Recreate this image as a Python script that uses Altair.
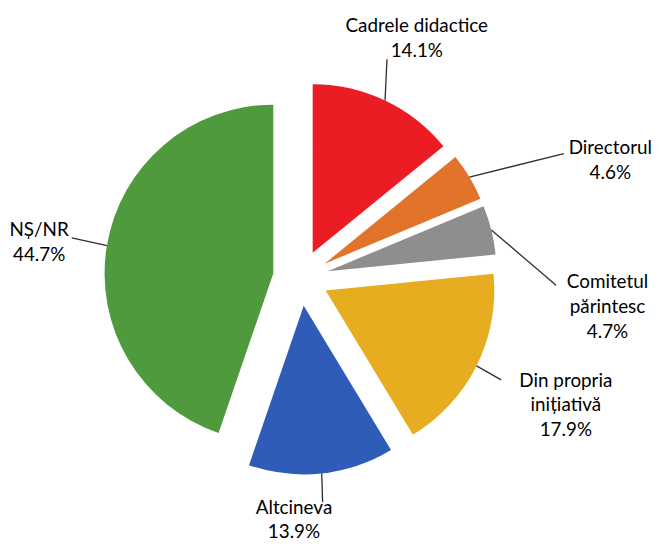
import math
import altair as alt
import pandas as pd

# ---- data ----
categories = ["Cadrele didactice", "Directorul", "Comitetul părintesc",
              "Din propria inițiativă", "Altcineva", "NȘ/NR"]
values = [14.1, 4.6, 4.7, 17.9, 13.9, 44.7]
colors = ["#EC1C24", "#E2732B", "#8E8E8E", "#E5AD1F", "#2E5CB8", "#4E9A3C"]
label_lines = ["Cadrele didactice", "Directorul", "Comitetul\npărintesc",
               "Din propria\ninițiativă", "Altcineva", "NȘ/NR"]

# ---- layout (radius units / degrees clockwise from 12 o'clock, relative to each slice centre) ----
LEADER_R = [1.229, 1.561, 1.356, 1.168, 1.170, 1.213]
LEADER_DEG = [21.0, 65.3, 93.5, 117.0, 174.5, 280.0]
TEXT_R = [1.413, 1.80, 1.672, 1.579, 1.272, 1.400]
TEXT_DEG = [25.9, 70.2, 97.3, 115.6, 182.6, 277.5]
EXPLODE = 0.165          # slice offset, in radius units
RADIUS_PX = 170
W, H = 652, 534
CX_PX, CY_PX = 295, 270  # pie centre inside the plot area
FONT_SIZE = 19
LINE_H = 25

xs = alt.Scale(domain=[-CX_PX / RADIUS_PX, (W - CX_PX) / RADIUS_PX], nice=False, zero=False)
ys = alt.Scale(domain=[-(H - CY_PX) / RADIUS_PX, CY_PX / RADIUS_PX], nice=False, zero=False)

df = pd.DataFrame({
    "category": categories,
    "value": values,
    "order": list(range(len(categories))),
    "label": label_lines,
    "lr": LEADER_R,
    "ld": LEADER_DEG,
    "tr": TEXT_R,
    "td": TEXT_DEG,
})

base = (
    alt.Chart(df)
    .transform_window(cum="sum(value)", sort=[alt.SortField("order")], frame=[None, 0])
    .transform_joinaggregate(total="sum(value)")
    .transform_calculate(t0="(datum.cum - datum.value) / datum.total")
    .transform_calculate(t1="datum.cum / datum.total")
    .transform_calculate(mid="PI * (2 * datum.cum - datum.value) / datum.total")
    .transform_calculate(sx=f"{EXPLODE} * sin(datum.mid)")
    .transform_calculate(sy=f"{EXPLODE} * cos(datum.mid)")
    .transform_calculate(ax="datum.sx + sin(datum.mid)")
    .transform_calculate(ay="datum.sy + cos(datum.mid)")
    .transform_calculate(lx="datum.sx + datum.lr * sin(datum.ld * PI / 180)")
    .transform_calculate(ly="datum.sy + datum.lr * cos(datum.ld * PI / 180)")
    .transform_calculate(txt="datum.label + '\\n' + format(datum.value, '.1f') + '%'")
    .transform_calculate(nlines="length(split(datum.txt, '\\n'))")
    .transform_calculate(tx="datum.sx + datum.tr * sin(datum.td * PI / 180)")
    .transform_calculate(
        ty=f"datum.sy + datum.tr * cos(datum.td * PI / 180) + (datum.nlines - 1) * {LINE_H / 2} / {RADIUS_PX}"
    )
)

arcs = base.mark_arc(radius=RADIUS_PX).encode(
    x=alt.X("sx:Q", scale=xs, axis=None),
    y=alt.Y("sy:Q", scale=ys, axis=None),
    theta=alt.Theta("t0:Q", stack=None, scale=alt.Scale(domain=[0, 1], range=[0, 2 * math.pi])),
    theta2="t1:Q",
    color=alt.Color("category:N", scale=alt.Scale(domain=categories, range=colors), legend=None),
)

leaders = base.mark_rule(color="#2e2e2e", strokeWidth=1.3).encode(
    x=alt.X("ax:Q", scale=xs, axis=None),
    y=alt.Y("ay:Q", scale=ys, axis=None),
    x2="lx:Q",
    y2="ly:Q",
)

texts = base.mark_text(
    font="Lato", fontSize=FONT_SIZE, lineBreak="\n", lineHeight=LINE_H,
    align="center", baseline="middle", color="#000000",
).encode(
    x=alt.X("tx:Q", scale=xs, axis=None),
    y=alt.Y("ty:Q", scale=ys, axis=None),
    text="txt:N",
)

chart = (
    alt.layer(arcs, leaders, texts)
    .properties(width=W, height=H, padding=0, autosize=alt.AutoSizeParams(type="none"))
    .configure_view(stroke=None)
)

chart.save("out.html", embed_options={"renderer": "svg", "actions": False})
